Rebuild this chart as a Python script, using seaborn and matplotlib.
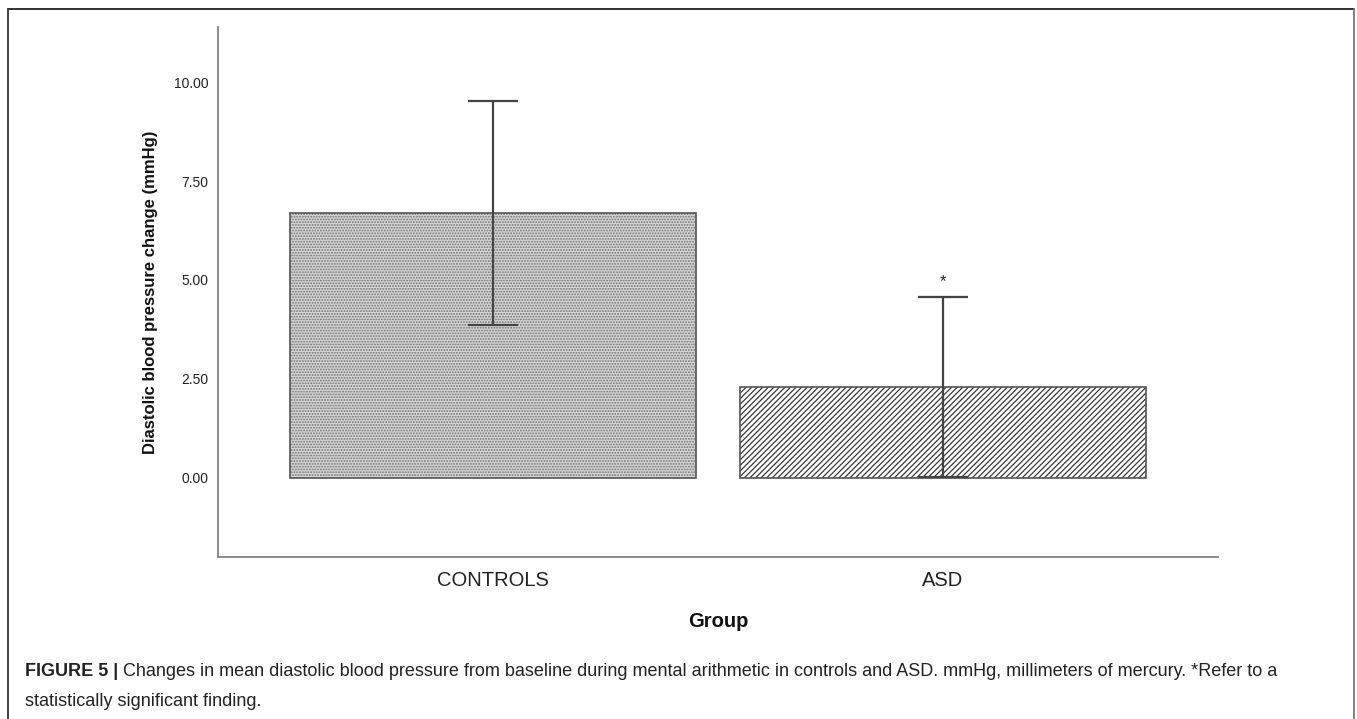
import matplotlib
matplotlib.use("Agg")
import matplotlib.pyplot as plt
from matplotlib.lines import Line2D
import seaborn as sns
import pandas as pd

# Group means and error half-widths (mmHg)
groups = ["CONTROLS", "ASD"]
mean_change = [6.69, 2.30]
err_half = [2.84, 2.28]
hatches = ["......", "//////"]
significant = [False, True]

sns.set_theme(style="white")
plt.rcParams["font.family"] = ["Liberation Sans", "DejaVu Sans"]
plt.rcParams["hatch.linewidth"] = 0.9

df = pd.DataFrame({"Group": groups, "change": mean_change})

fig = plt.figure(figsize=(13.57, 7.19), dpi=100)
ax = fig.add_axes([0.1607, 0.2253, 0.7369, 0.7371])

sns.barplot(data=df, x="Group", y="change", order=groups, width=0.902,
            color="white", errorbar=None, ax=ax, zorder=2)

face = {".": "#d6d6d6", "/": "white"}
hcol = {".": "#707070", "/": "#3a3a3a"}
for patch, h in zip(ax.patches, hatches):
    patch.set_facecolor(face[h[0]])
    patch.set_hatch(h)
    patch.set_edgecolor("#555555")
    patch.set_linewidth(1.2)
    patch._hatch_color = matplotlib.colors.to_rgba(hcol[h[0]])

ax.errorbar(x=range(len(groups)), y=mean_change, yerr=err_half, fmt="none",
            ecolor="#444444", elinewidth=1.6, capsize=18, capthick=1.6, zorder=3)

for i, (m, e, sig) in enumerate(zip(mean_change, err_half, significant)):
    if sig:
        ax.text(i, m + e + 0.38, "*", ha="center", va="center",
                fontsize=12, color="#222222")

ax.set_ylim(-2.0, 11.39)
ax.set_xlim(-0.611, 1.611)
ax.set_yticks([0, 2.5, 5, 7.5, 10])
ax.set_yticklabels(["0.00", "2.50", "5.00", "7.50", "10.00"])
ax.tick_params(axis="y", length=0, pad=7, labelsize=10, labelcolor="#222222")
ax.tick_params(axis="x", length=0, pad=10, labelsize=14.5, labelcolor="#222222")

for side in ["top", "right"]:
    ax.spines[side].set_visible(False)
for side in ["left", "bottom"]:
    ax.spines[side].set_color("#8a8a8a")
    ax.spines[side].set_linewidth(1.4)

ax.set_xlabel("Group", fontsize=14.5, fontweight="bold", labelpad=16, color="#111111")
ax.set_ylabel("Diastolic blood pressure change (mmHg)", fontsize=12,
              fontweight="bold", labelpad=11, color="#111111")

# Frame around the figure panel (open at the bottom)
W, H = 1357, 719
fx0, fx1, fy0 = 8 / W, 1354 / W, 1 - 9 / H
fig.add_artist(Line2D([fx0, fx1], [fy0, fy0], transform=fig.transFigure,
                      color="#222222", lw=1.3))
fig.add_artist(Line2D([fx0, fx0], [fy0, -0.01], transform=fig.transFigure,
                      color="#333333", lw=1.3))
fig.add_artist(Line2D([fx1, fx1], [fy0, -0.01], transform=fig.transFigure,
                      color="#777777", lw=1.3))

# Caption: bold figure number followed by the regular text
cap_size = 13
cap_x = 25 / W
head = fig.text(cap_x, 1 - 672 / H, "FIGURE 5 |", fontsize=cap_size, fontweight="bold",
                va="center", ha="left", color="#222222")
renderer = fig.canvas.get_renderer()
bb = head.get_window_extent(renderer=renderer)
fig.text(bb.x1 / W + 5 / W, 1 - 672 / H,
         "Changes in mean diastolic blood pressure from baseline during mental arithmetic "
         "in controls and ASD. mmHg, millimeters of mercury. *Refer to a",
         fontsize=cap_size, va="center", ha="left", color="#222222")
fig.text(cap_x, 1 - 701 / H, "statistically significant finding.",
         fontsize=cap_size, va="center", ha="left", color="#222222")

fig.savefig("out.png", dpi=100)
